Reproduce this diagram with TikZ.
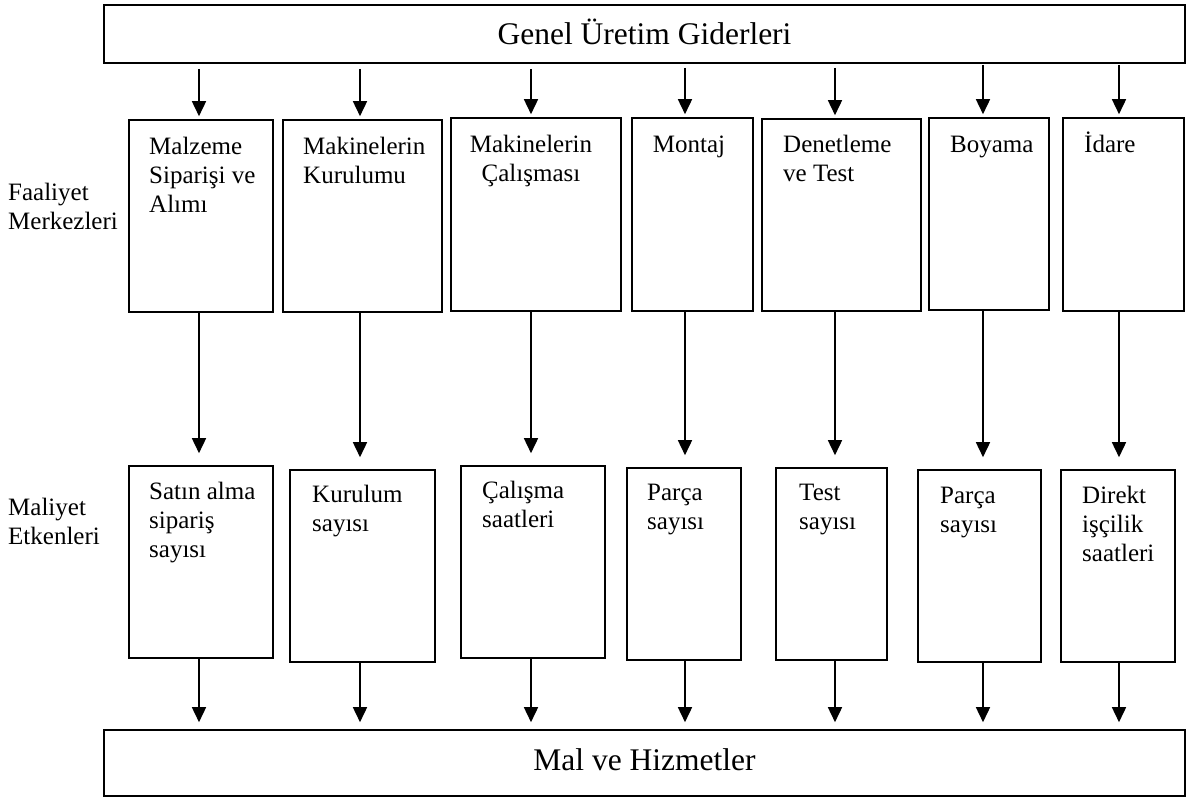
\documentclass[tikz,border=0pt]{standalone}
\usepackage{fontspec}
\setmainfont{Liberation Serif}
\usetikzlibrary{arrows.meta,fit}
\begin{document}
\begin{tikzpicture}[x=1pt,y=-1pt,
  box/.style={draw,line width=1.6pt,inner sep=0pt,rectangle},
  lbl/.style={inner sep=0pt,align=left,font=\fontsize{25}{29}\selectfont},
  lblc/.style={inner sep=0pt,align=center,font=\fontsize{25}{29}\selectfont},
  big/.style={inner sep=0pt,font=\fontsize{31.5}{36}\selectfont},
  arr/.style={line width=1.6pt,-{Triangle[width=14pt,length=15pt]}}]
\useasboundingbox (0,0) rectangle (1197,798);
% columns
\coordinate (c1) at (199,0);
\coordinate (c2) at (360,0);
\coordinate (c3) at (531,0);
\coordinate (c4) at (685,0);
\coordinate (c5) at (835,0);
\coordinate (c6) at (983,0);
\coordinate (c7) at (1119,0);
% top and bottom boxes
\node[box,fit={(104,5) (1185,63)}] (top) {};
\node[big,anchor=base] (toptext) at (644.5,44) {Genel Üretim Giderleri};
\node[box,fit={(104,730) (1185,796)}] (bot) {};
\node[big,anchor=base] (bottext) at (644.5,770) {Mal ve Hizmetler};
% side labels (anchor = baseline of last line)
\node[lbl,anchor=base west] (fm) at (8,229) {Faaliyet\\Merkezleri};
\node[lbl,anchor=base west] (me) at (8,544) {Maliyet\\Etkenleri};
% activity centres
\node[box,fit={(129,120) (273,312)}] (a1) {};
\node[box,fit={(283,120) (442,312)}] (a2) {};
\node[box,fit={(451,118) (621,311)}] (a3) {};
\node[box,fit={(632,118) (753,311)}] (a4) {};
\node[box,fit={(762,119) (921,311)}] (a5) {};
\node[box,fit={(929,118) (1049,310)}] (a6) {};
\node[box,fit={(1063,118) (1184,311)}] (a7) {};
\node[lbl,anchor=base west] (a1t) at (149,212) {Malzeme\\Siparişi ve\\Alımı};
\node[lbl,anchor=base west] (a2t) at (303,183) {Makinelerin\\Kurulumu};
\node[lblc,anchor=base] (a3t) at (531,181) {Makinelerin\\Çalışması};
\node[lbl,anchor=base] (a4t) at (689,152) {Montaj};
\node[lbl,anchor=base west] (a5t) at (783,181) {Denetleme\\ve Test};
\node[lbl,anchor=base west] (a6t) at (950,152) {Boyama};
\node[lbl,anchor=base west] (a7t) at (1084,152) {İdare};
% cost drivers
\node[box,fit={(129,466) (273,658)}] (b1) {};
\node[box,fit={(290,470) (435,662)}] (b2) {};
\node[box,fit={(461,466) (605,658)}] (b3) {};
\node[box,fit={(627,468) (741,660)}] (b4) {};
\node[box,fit={(776,468) (887,660)}] (b5) {};
\node[box,fit={(918,470) (1041,662)}] (b6) {};
\node[box,fit={(1061,470) (1175,662)}] (b7) {};
\node[lbl,anchor=base west] (b1t) at (149,557) {Satın alma\\sipariş\\sayısı};
\node[lbl,anchor=base west] (b2t) at (312,531) {Kurulum\\sayısı};
\node[lbl,anchor=base west] (b3t) at (482,527) {Çalışma\\saatleri};
\node[lbl,anchor=base west] (b4t) at (647,529) {Parça\\sayısı};
\node[lbl,anchor=base west] (b5t) at (799,529) {Test\\sayısı};
\node[lbl,anchor=base west] (b6t) at (940,532) {Parça\\sayısı};
\node[lbl,anchor=base west] (b7t) at (1082,561) {Direkt\\işçilik\\saatleri};
% arrows
\foreach \i/\s in {1/5,2/5,3/5,4/4,5/4,6/1,7/1}{
  \draw[arr,shorten <=\s pt,shorten >=3pt] (top.south -| c\i) -- (a\i.north -| c\i);
}
\foreach \i in {1,...,7}{
  \draw[arr,shorten >=12pt] (a\i.south -| c\i) -- (b\i.north -| c\i);
  \draw[arr,shorten >=7pt] (b\i.south -| c\i) -- (bot.north -| c\i);
}
\end{tikzpicture}
\end{document}
